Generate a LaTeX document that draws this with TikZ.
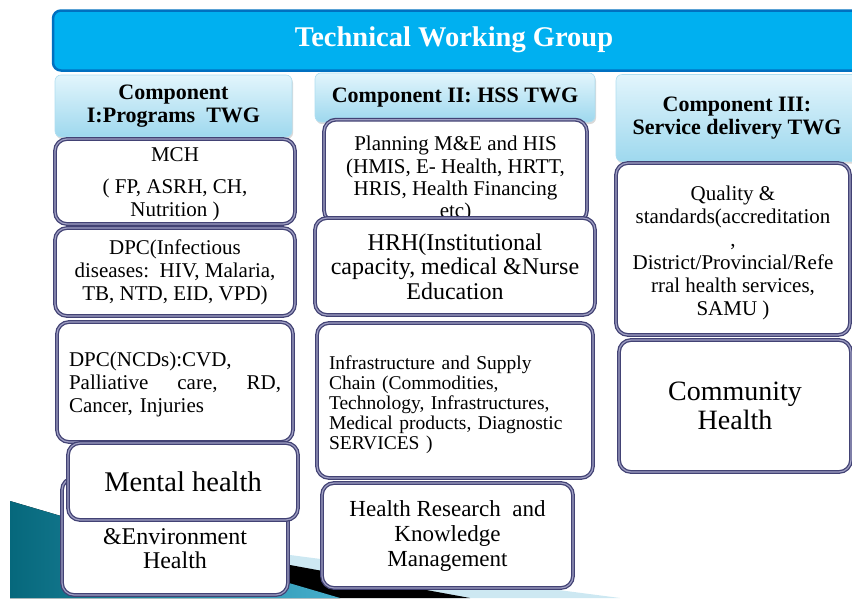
\documentclass[tikz,border=0pt]{standalone}
\usepackage{fontspec}
\setmainfont{Liberation Serif}
\usetikzlibrary{shadows, positioning}
\definecolor{twgblue}{RGB}{0,176,240}
\definecolor{twgedge}{RGB}{0,112,192}
\definecolor{headtop}{RGB}{226,245,252}
\definecolor{headbot}{RGB}{158,216,238}
\definecolor{headedge}{RGB}{175,222,240}
\definecolor{itemedge}{RGB}{66,66,116}
\definecolor{itemsoft}{RGB}{160,160,196}
\definecolor{tealdark}{RGB}{6,104,124}
\definecolor{teallight}{RGB}{70,175,205}
\definecolor{swoosh}{RGB}{205,232,242}

\begin{document}
\begin{tikzpicture}[x=1pt, y=-1pt,
  banner/.style={draw=twgedge, line width=2.5pt, fill=twgblue, rounded corners=8pt},
  twghead/.style={draw=headedge, line width=0.6pt, top color=headtop, bottom color=headbot, rounded corners=6pt, align=center, inner sep=0pt, font=\fontsize{22}{23.5}\selectfont\bfseries, drop shadow={opacity=0.3, shadow xshift=1pt, shadow yshift=-2pt}},
  twgitem/.style={draw=itemedge, line width=1.3pt, double=itemsoft, double distance=1.2pt, fill=white, rounded corners=12pt, align=center, inner sep=0pt, font=\fontsize{21}{23}\selectfont}
]
\useasboundingbox (0,0) rectangle (852,598);
\clip (0,0) rectangle (852,598);

% backdrop swoosh
\fill[swoosh] (10,518.6) -- (290,555) -- (620,598) -- (10,598) -- cycle;
\fill[black] (10,514) -- (290,565) -- (470,598) -- (10,598) -- cycle;
\fill[left color=tealdark, right color=teallight] (10,501) -- (340,598) -- (10,598) -- cycle;

\node[banner, minimum width=817pt, minimum height=60pt] (twg) at (461.5,40.5) {};
\node[font=\fontsize{28.5}{30}\selectfont\bfseries, text=white] (twgtitle) at (454,40) {Technical Working Group};

\node[twghead, minimum width=237pt, minimum height=62pt] (comp1) at (173.5,106) {Component\\I:Programs\ \ TWG};
\node[twghead, minimum width=280pt, minimum height=49pt] (comp2) at (455,97.5) {Component II: HSS TWG};
\node[twghead, minimum width=242pt, minimum height=87pt] (comp3) at (737,118) {Component III:\\Service delivery TWG};

% component I
\node[twgitem, minimum width=240pt, minimum height=85pt] (mch) at (175,181.5) {\mbox{}\\[-3pt]MCH\\[9pt]( FP, ASRH, CH,\\Nutrition )};
\node[twgitem, minimum width=240pt, minimum height=88pt] (dpcinf) at (175,272) {DPC(Infectious\\diseases:\ \ HIV, Malaria,\\TB, NTD, EID, VPD)};
\node[twgitem, minimum width=236pt, minimum height=120pt, text width=212pt, align=left] (dpcncd) at (175,382) {\mbox{}\\[-3pt]DPC(NCDs):CVD,\\Palliative\hfill care,\hfill RD,\\Cancer, Injuries};
\node[twgitem, minimum width=226pt, minimum height=117pt, font=\fontsize{24}{24}\selectfont] (envh) at (175,536.5) {\strut\\\&Environment\\Health};
\node[twgitem, minimum width=230pt, minimum height=77pt, font=\fontsize{28.5}{30}\selectfont] (mental) at (183,481.5) {Mental health};

% component II
\node[twgitem, minimum width=263pt, minimum height=92pt, font=\fontsize{21}{22.3}\selectfont] (plan) at (455.5,171) {\mbox{}\\[9pt]Planning M\&E and HIS\\(HMIS, E- Health, HRTT,\\HRIS, Health Financing\\etc)};
\node[twgitem, minimum width=280pt, minimum height=97pt, font=\fontsize{24}{24.5}\selectfont] (hrh) at (455,266.5) {HRH(Institutional\\capacity, medical \&Nurse\\Education};
\node[twgitem, minimum width=276pt, minimum height=155pt, text width=252pt, align=left, font=\fontsize{19.5}{20}\selectfont] (infra) at (455,400.5) {\mbox{}\\[3pt]Infrastructure and Supply\\Chain (Commodities,\\Technology, Infrastructures,\\Medical products, Diagnostic\\SERVICES )};
\node[twgitem, minimum width=251pt, minimum height=105pt, font=\fontsize{23}{25}\selectfont] (research) at (447.5,535.5) {Health Research\ \ and\\Knowledge\\Management};

% component III
\node[twgitem, minimum width=234pt, minimum height=172pt] (quality) at (733,249) {\mbox{}\\[-1pt]Quality \&\\standards(accreditation\\,\\District/Provincial/Refe\\rral health services,\\SAMU )};
\node[twgitem, minimum width=232pt, minimum height=132pt, font=\fontsize{28}{29}\selectfont] (community) at (735,406) {Community\\Health};
\end{tikzpicture}
\end{document}
